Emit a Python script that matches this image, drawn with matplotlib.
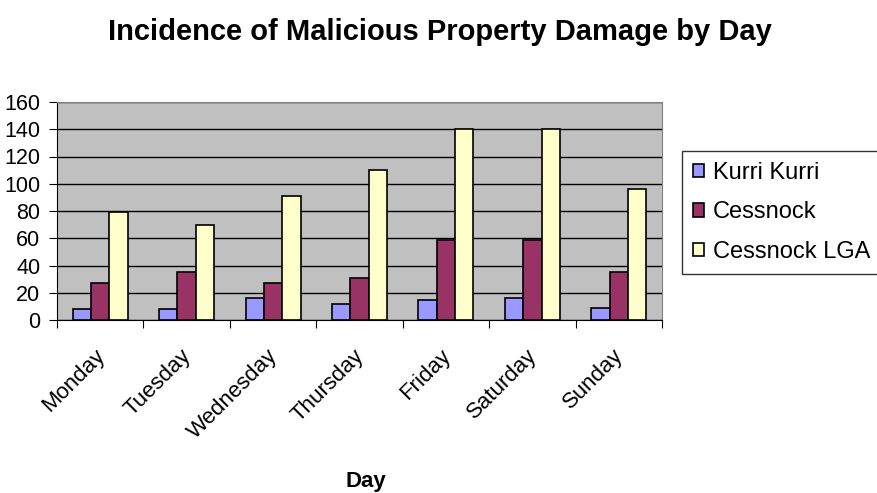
import numpy as np
import matplotlib.pyplot as plt
import matplotlib.transforms as mtransforms

days = ['Monday', 'Tuesday', 'Wednesday', 'Thursday', 'Friday', 'Saturday', 'Sunday']
kurri_kurri = [8, 8, 16, 12, 15, 16, 9]
cessnock = [27, 35, 27, 31, 59, 59, 35]
cessnock_lga = [79, 70, 91, 110, 140, 140, 96]

plt.rcParams['font.family'] = ['Liberation Sans', 'DejaVu Sans']

fig = plt.figure(figsize=(8.78, 4.93), dpi=100)
ax = fig.add_axes([57/878, 1 - 320/493, 605/878, 218/493])

x = np.arange(len(days))
w = 0.212
ax.bar(x - w, kurri_kurri, w, color='#9999FF', edgecolor='black', linewidth=1.2, label='Kurri Kurri', zorder=3)
ax.bar(x, cessnock, w, color='#993366', edgecolor='black', linewidth=1.2, label='Cessnock', zorder=3)
ax.bar(x + w, cessnock_lga, w, color='#FFFFCC', edgecolor='black', linewidth=1.2, label='Cessnock LGA', zorder=3)

ax.set_facecolor('#C0C0C0')
ax.set_xlim(-0.5, len(days) - 0.5)
ax.set_ylim(0, 160)
ax.set_yticks(range(0, 161, 20))
ax.yaxis.grid(True, color='black', linewidth=1)
ax.set_axisbelow(True)

# ticks at the category boundaries, labels in the middle
ax.set_xticks(np.arange(-0.5, len(days), 1))
ax.set_xticklabels([])
ax.set_xticks(x, minor=True)
ax.set_xticklabels(days, minor=True, rotation=45, ha='right', rotation_mode='anchor', fontsize=16)
ax.tick_params(axis='x', which='minor', length=0, pad=18)
ax.tick_params(axis='x', which='major', length=6, direction='out')
ax.tick_params(axis='y', length=6, direction='out', labelsize=15.5, pad=6)
shift = mtransforms.ScaledTranslation(-6/100, 0, fig.dpi_scale_trans)
for lbl in ax.get_xticklabels(minor=True):
    lbl.set_transform(lbl.get_transform() + shift)

for s in ['top', 'right']:
    ax.spines[s].set_color('#808080')
ax.spines['left'].set_color('black')
ax.spines['bottom'].set_color('black')

fig.text(440/878, 1 - 32/493, 'Incidence of Malicious Property Damage by Day',
         ha='center', va='center', fontsize=21, fontweight='bold')
fig.text(366/878, 1 - 481/493, 'Day', ha='center', va='center', fontsize=16, fontweight='bold')

leg = fig.legend(loc='upper left', bbox_to_anchor=(682/878, 1 - 151/493), fontsize=17,
                 frameon=True, fancybox=False, edgecolor='black', handlelength=0.5,
                 handleheight=0.5, handletextpad=0.35, borderpad=0.45, labelspacing=0.75,
                 borderaxespad=0)
leg.get_frame().set_linewidth(1)

fig.savefig('out.png', dpi=100)
